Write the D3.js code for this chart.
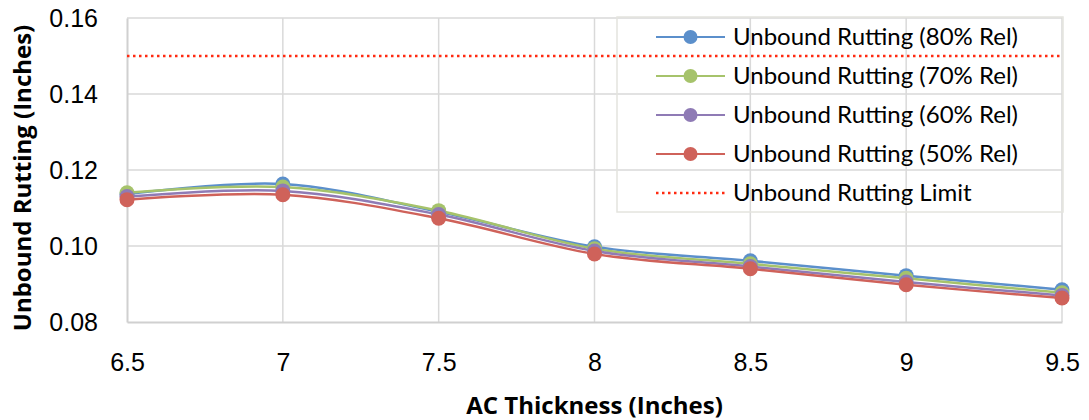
<!DOCTYPE html>
<html>
<head>
<meta charset="utf-8">
<script src="https://cdn.jsdelivr.net/npm/d3@7"></script>
<style>
  html, body { margin: 0; padding: 0; background: #fff; }
  svg { display: block; font-family: Lato, "Open Sans", sans-serif; }
  .grid line { stroke: #d9d9d9; stroke-width: 1.5; }
  .tick-label { font-size: 25px; fill: #000; }
  .axis-title { font-family: "Open Sans", sans-serif; font-size: 24px; font-weight: bold; fill: #000; }
  .legend-label { font-size: 24px; fill: #000; }
</style>
</head>
<body>
<div id="chart"></div>
<script>
(function () {
  "use strict";

  // data
  const thickness = [6.5, 7, 7.5, 8, 8.5, 9, 9.5];
  const rel80 = [0.1137, 0.1163, 0.1090, 0.0998, 0.0961, 0.0922, 0.0885];
  const rel70 = [0.1140, 0.1155, 0.1093, 0.0993, 0.0953, 0.0915, 0.0877];
  const rel60 = [0.1130, 0.1145, 0.1083, 0.0987, 0.0946, 0.0905, 0.0870];
  const rel50 = [0.1122, 0.1135, 0.1073, 0.0979, 0.0940, 0.0898, 0.0863];
  const rutLimit = 0.15;
  const yTicks = [0.08, 0.10, 0.12, 0.14, 0.16];

  const series = [
    { name: "Unbound Rutting (80% Rel)", values: rel80, color: "#5b8fcb" },
    { name: "Unbound Rutting (70% Rel)", values: rel70, color: "#a6c36b" },
    { name: "Unbound Rutting (60% Rel)", values: rel60, color: "#8f7bb5" },
    { name: "Unbound Rutting (50% Rel)", values: rel50, color: "#cf625a" }
  ];
  const limitName = "Unbound Rutting Limit";
  const limitColor = "#ff2a10";

  const width = 1089, height = 420;
  const margin = { top: 18, right: 27, bottom: 98, left: 127 };

  const svg = d3.select("#chart")
    .append("svg")
    .attr("width", width)
    .attr("height", height);

  const x = d3.scaleLinear()
    .domain(d3.extent(thickness))
    .range([margin.left, width - margin.right]);
  const y = d3.scaleLinear()
    .domain([0.08, 0.16])
    .range([height - margin.bottom, margin.top]);

  // gridlines
  const grid = svg.append("g").attr("class", "grid");
  grid.selectAll("line.h")
    .data(yTicks.slice(1))
    .join("line")
    .attr("class", "h")
    .attr("x1", margin.left).attr("x2", width - margin.right)
    .attr("y1", y).attr("y2", y);
  grid.selectAll("line.v")
    .data(thickness.slice(1))
    .join("line")
    .attr("class", "v")
    .attr("x1", x).attr("x2", x)
    .attr("y1", margin.top).attr("y2", height - margin.bottom);

  // axes (Excel-like: gray lines, no tick marks)
  svg.append("g")
    .attr("transform", `translate(0,${height - margin.bottom})`)
    .call(d3.axisBottom(x).tickValues(thickness).tickSize(0).tickPadding(31).tickFormat(d3.format("")))
    .call((g) => g.select(".domain").attr("stroke", "#d0d0d0").attr("stroke-width", 2))
    .call((g) => g.selectAll("text").attr("class", "tick-label").attr("font-family", null).attr("font-size", null));

  svg.append("g")
    .attr("transform", `translate(${margin.left},0)`)
    .call(d3.axisLeft(y).tickValues(yTicks).tickSize(0).tickPadding(29).tickFormat(d3.format(".2f")))
    .call((g) => g.select(".domain").attr("stroke", "#d0d0d0").attr("stroke-width", 2))
    .call((g) => g.selectAll("text").attr("class", "tick-label").attr("font-family", null).attr("font-size", null));

  // limit line
  svg.append("line")
    .attr("x1", margin.left).attr("x2", width - margin.right)
    .attr("y1", y(rutLimit)).attr("y2", y(rutLimit))
    .attr("stroke", limitColor)
    .attr("stroke-width", 2.5)
    .attr("stroke-dasharray", "2.5 3.5");

  // series
  const line = d3.line()
    .x((d, i) => x(thickness[i]))
    .y((d) => y(d))
    .curve(d3.curveCatmullRom.alpha(0));

  series.forEach((s) => {
    svg.append("path")
      .attr("d", line(s.values))
      .attr("fill", "none")
      .attr("stroke", s.color)
      .attr("stroke-width", 2.5);
  });
  series.forEach((s) => {
    svg.append("g")
      .selectAll("circle")
      .data(s.values)
      .join("circle")
      .attr("cx", (d, i) => x(thickness[i]))
      .attr("cy", (d) => y(d))
      .attr("r", 7.5)
      .attr("fill", s.color);
  });

  // legend
  const legend = svg.append("g");
  legend.append("rect")
    .attr("x", 617).attr("y", 17)
    .attr("width", 446).attr("height", 195)
    .attr("fill", "none")
    .attr("stroke", "#e4e4de")
    .attr("stroke-width", 1.5);

  const entries = series.concat([{ name: limitName, color: limitColor, dotted: true }]);
  const items = legend.selectAll("g.item")
    .data(entries)
    .join("g")
    .attr("class", "item")
    .attr("transform", (d, i) => `translate(656,${37 + i * 39})`);

  items.append("line")
    .attr("x1", 0).attr("x2", 69)
    .attr("stroke", (d) => d.color)
    .attr("stroke-width", (d) => (d.dotted ? 2.5 : 2))
    .attr("stroke-dasharray", (d) => (d.dotted ? "2.5 3.5" : null));
  items.filter((d) => !d.dotted)
    .append("circle")
    .attr("cx", 34.5).attr("r", 7)
    .attr("fill", (d) => d.color);
  items.append("text")
    .attr("class", "legend-label")
    .attr("x", 77)
    .attr("dy", "0.35em")
    .text((d) => d.name);

  // axis titles
  svg.append("text")
    .attr("class", "axis-title")
    .attr("x", x(8))
    .attr("y", 414)
    .attr("text-anchor", "middle")
    .text("AC Thickness (Inches)");
  svg.append("text")
    .attr("class", "axis-title")
    .attr("transform", `translate(31,178) rotate(-90)`)
    .attr("text-anchor", "middle")
    .text("Unbound Rutting (Inches)");
})();
</script>
</body>
</html>
